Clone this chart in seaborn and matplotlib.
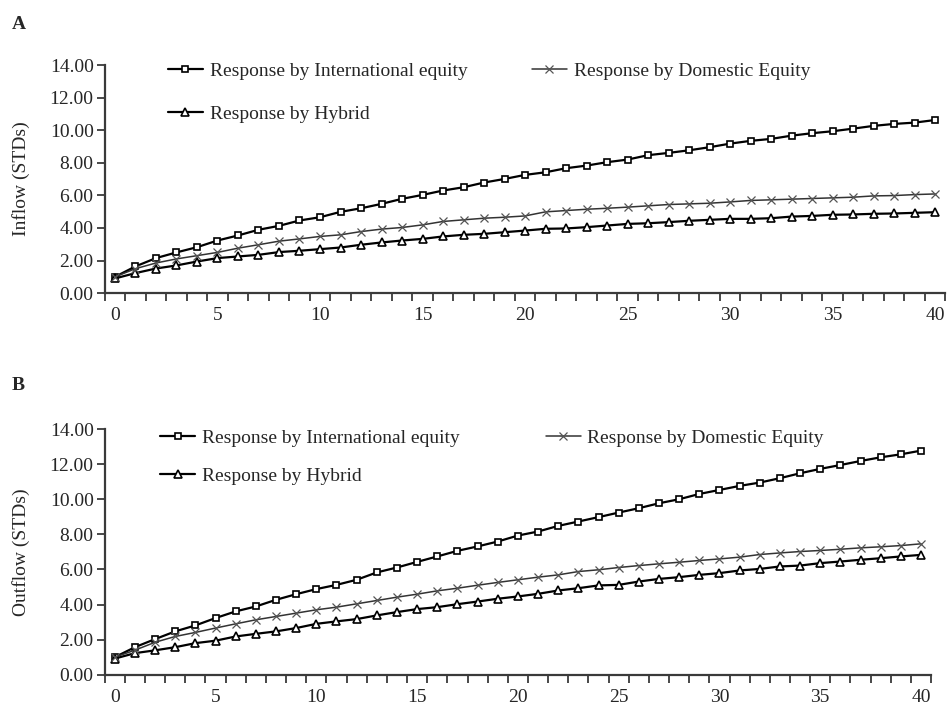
"""
plot.py
Impulse responses of fund flows (inflow / outflow) by fund type.
"""

import numpy as np
import pandas as pd
import matplotlib
matplotlib.use("Agg")
import matplotlib.pyplot as plt
import seaborn as sns

sns.set_theme(style="white")
plt.rcParams["font.family"] = ["Liberation Serif", "DejaVu Serif"]

steps = list(range(41))

# ── Panel A: inflow ──────────────────────────────────────────────────────────
inflow_intl = [1.00, 1.64, 2.15, 2.50, 2.82, 3.23, 3.54, 3.89, 4.13, 4.46,
               4.66, 4.99, 5.21, 5.48, 5.79, 6.03, 6.30, 6.50, 6.79, 7.01,
               7.26, 7.42, 7.67, 7.83, 8.04, 8.20, 8.47, 8.61, 8.77, 8.96,
               9.18, 9.35, 9.47, 9.67, 9.82, 9.94, 10.10, 10.27, 10.39, 10.47,
               10.63]
inflow_dom = [1.00, 1.50, 1.85, 2.10, 2.30, 2.50, 2.76, 2.97, 3.19, 3.33,
              3.48, 3.58, 3.78, 3.93, 4.03, 4.19, 4.40, 4.50, 4.60, 4.66,
              4.74, 4.99, 5.07, 5.15, 5.21, 5.28, 5.36, 5.44, 5.48, 5.52,
              5.60, 5.69, 5.73, 5.77, 5.81, 5.85, 5.89, 5.97, 5.99, 6.05,
              6.09]
inflow_hyb = [0.90, 1.23, 1.51, 1.70, 1.94, 2.15, 2.25, 2.35, 2.52, 2.60,
              2.70, 2.80, 2.97, 3.11, 3.23, 3.33, 3.48, 3.58, 3.64, 3.74,
              3.84, 3.95, 3.97, 4.05, 4.15, 4.25, 4.29, 4.36, 4.44, 4.50,
              4.56, 4.56, 4.60, 4.70, 4.74, 4.81, 4.83, 4.87, 4.89, 4.93,
              4.97]

# ── Panel B: outflow ─────────────────────────────────────────────────────────
outflow_intl = [1.00, 1.57, 2.03, 2.47, 2.81, 3.23, 3.61, 3.89, 4.27, 4.59,
                4.88, 5.12, 5.41, 5.83, 6.11, 6.43, 6.74, 7.06, 7.31, 7.59,
                7.93, 8.16, 8.48, 8.73, 8.98, 9.24, 9.49, 9.77, 10.00, 10.30,
                10.53, 10.76, 10.95, 11.20, 11.48, 11.73, 11.95, 12.18, 12.39,
                12.56, 12.77]
outflow_dom = [1.00, 1.40, 1.85, 2.18, 2.41, 2.66, 2.90, 3.13, 3.32, 3.51,
               3.70, 3.85, 4.04, 4.23, 4.42, 4.59, 4.78, 4.93, 5.10, 5.26,
               5.41, 5.56, 5.69, 5.88, 5.98, 6.11, 6.22, 6.32, 6.41, 6.51,
               6.60, 6.70, 6.85, 6.94, 7.02, 7.08, 7.15, 7.23, 7.29, 7.36,
               7.46]
outflow_hyb = [0.92, 1.23, 1.39, 1.57, 1.80, 1.94, 2.18, 2.33, 2.47, 2.66,
               2.90, 3.04, 3.17, 3.38, 3.57, 3.74, 3.85, 4.02, 4.17, 4.33,
               4.46, 4.61, 4.80, 4.93, 5.09, 5.12, 5.31, 5.46, 5.56, 5.69,
               5.79, 5.94, 6.03, 6.17, 6.22, 6.36, 6.45, 6.55, 6.64, 6.74,
               6.83]

LBL_INTL = "Response by International equity"
LBL_DOM = "Response by Domestic Equity"
LBL_HYB = "Response by Hybrid"
AXIS_GRAY = "#3a3a3a"
FS = 14


def draw_panel(ax, intl, dom, hyb, ylabel, legend_anchor, colspace, rowspace):
    sns.lineplot(x=steps, y=intl, ax=ax, color="black", linewidth=1.6,
                 marker="s", markersize=5, markerfacecolor="white",
                 markeredgecolor="black", markeredgewidth=1.2, label=LBL_INTL)
    sns.lineplot(x=steps, y=hyb, ax=ax, color="black", linewidth=1.6,
                 marker="^", markersize=5.5, markerfacecolor="white",
                 markeredgecolor="black", markeredgewidth=1.2, label=LBL_HYB)
    sns.lineplot(x=steps, y=dom, ax=ax, color="#333333", linewidth=1.1,
                 marker="x", markersize=5.5, markeredgecolor="#555555",
                 markeredgewidth=0.9, label=LBL_DOM)

    ax.set_xlim(-0.5, 40.5)
    ax.set_ylim(0, 14)
    ax.set_yticks(np.arange(0, 15, 2))
    ax.set_yticklabels([f"{v:.2f}" for v in np.arange(0, 15, 2)], fontsize=FS)
    ax.set_xticks(np.arange(0, 41, 5))
    ax.set_xticklabels([str(v) for v in range(0, 41, 5)], fontsize=FS)
    ax.set_xticks(np.arange(-0.5, 41, 1), minor=True)
    ax.tick_params(axis="x", which="major", length=0, pad=10)
    ax.tick_params(axis="x", which="minor", direction="out", length=6,
                   width=1.3, color=AXIS_GRAY, bottom=True)
    ax.tick_params(axis="y", which="major", direction="out", length=6,
                   width=1.3, color=AXIS_GRAY, left=True, pad=2)
    ax.set_ylabel(ylabel, fontsize=FS, labelpad=14)
    ax.set_xlabel("")
    for side in ["top", "right"]:
        ax.spines[side].set_visible(False)
    for side in ["left", "bottom"]:
        ax.spines[side].set_color(AXIS_GRAY)
        ax.spines[side].set_linewidth(1.6)
    ax.legend(loc="upper left", bbox_to_anchor=legend_anchor, ncol=2,
              frameon=False, fontsize=FS, handlelength=1.8, handletextpad=0.35,
              columnspacing=colspace, labelspacing=rowspace, borderaxespad=0)


fig = plt.figure(figsize=(9.52, 7.08), dpi=100)

ax_a = fig.add_axes([0.110, 0.586, 0.883, 0.322])
draw_panel(ax_a, inflow_intl, inflow_dom, inflow_hyb, "Inflow (STDs)",
           (0.066, 1.045), 3.3, 1.3)
ax_b = fig.add_axes([0.110, 0.047, 0.868, 0.347])
draw_panel(ax_b, outflow_intl, outflow_dom, outflow_hyb, "Outflow (STDs)",
           (0.058, 1.03), 4.4, 1.05)

fig.text(0.012, 0.965, "A", fontsize=14, fontweight="bold", va="center")
fig.text(0.012, 0.455, "B", fontsize=14, fontweight="bold", va="center")

plt.savefig("out.png", dpi=100)
plt.close()
